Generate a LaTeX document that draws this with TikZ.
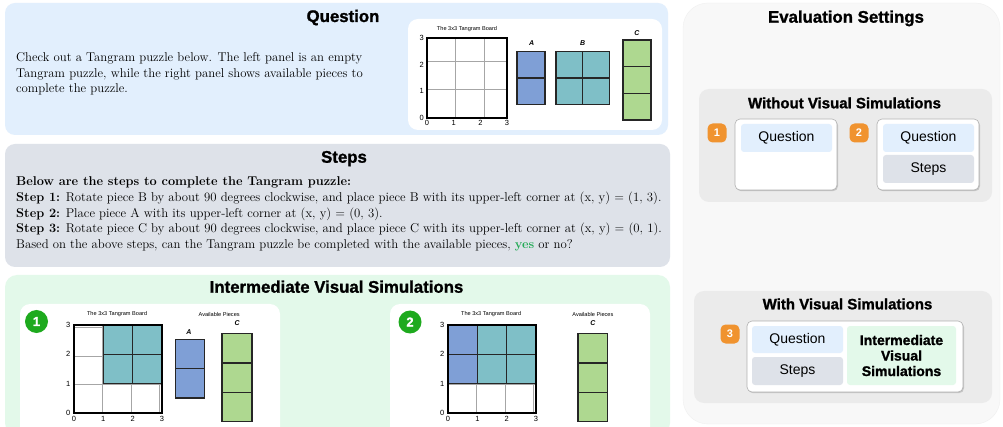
\documentclass[tikz,border=0pt]{standalone}
\usepackage{fontspec}
\newfontfamily\hsans{Liberation Sans}
\newfontfamily\hheavy{Liberation Sans}[BoldFeatures={FakeBold=1.3}]
\usetikzlibrary{shadows}
\definecolor{qbg}{HTML}{E2EFFD}
\definecolor{sbg}{HTML}{DEE2E9}
\definecolor{ibg}{HTML}{E3F9EA}
\definecolor{ebg}{HTML}{F8F8F8}
\definecolor{eib}{HTML}{EBEBEB}
\definecolor{pA}{HTML}{7F9FD6}
\definecolor{pB}{HTML}{7FBFC7}
\definecolor{pC}{HTML}{AED890}
\definecolor{bgreen}{HTML}{1EAA1E}
\definecolor{borange}{HTML}{F0932F}
\definecolor{yesgreen}{HTML}{22AA55}
\tikzset{
 boxn/.style={anchor=north west, inner sep=0pt, outer sep=0pt},
 ttl/.style={anchor=base, inner sep=0pt, font=\hheavy\bfseries\fontsize{16.8}{18}\selectfont},
 subttl/.style={anchor=base, inner sep=0pt, font=\hheavy\bfseries\fontsize{15}{17}\selectfont},
 body/.style={anchor=base west, inner sep=0pt, font=\fontsize{12.75}{16}\selectfont},
 gridln/.style={draw=gray!70, line width=0.4pt},
 pieceln/.style={draw=black!85, line width=1.3pt},
 boardln/.style={draw=black, line width=1.8pt},
 tiny/.style={font=\hsans\fontsize{5.6}{6}\selectfont, inner sep=0pt},
 axn/.style={font=\hsans\fontsize{7.5}{8}\selectfont, inner sep=0pt},
 plab/.style={font=\hsans\itshape\bfseries\fontsize{7}{8}\selectfont, inner sep=0pt},
 ebox/.style={boxn, fill=white, draw=gray!60, line width=0.6pt, rounded corners=5pt, drop shadow={shadow xshift=1pt, shadow yshift=-1.2pt, opacity=0.35}},
 einner/.style={boxn, rounded corners=3pt, font=\hsans\fontsize{14}{16}\selectfont},
 obadge/.style={fill=borange, rounded corners=5pt, minimum size=19pt, inner sep=0pt, text=white, font=\hsans\bfseries\fontsize{11}{12}\selectfont},
 gbadge/.style={circle, fill=bgreen, minimum size=23pt, inner sep=0pt, text=white, font=\hheavy\bfseries\fontsize{13}{14}\selectfont},
}
\newcommand\pc[5]{\filldraw[pieceln, fill=#5] (#1,#2) rectangle ++(#3,#4);}
\newcommand\tgaxes[1]{%
 \draw[gridln] (0,0) grid (3,3);
 \foreach \i in {0,1,2,3}{\node[axn] (#1l\i) at (-0.2,\i) {\i}; \node[axn] (#1b\i) at (\i,-0.2) {\i};}
}
\begin{document}
\begin{tikzpicture}[x=1pt,y=-1pt]
\useasboundingbox (0,0) rectangle (1003,427);
\fill[white] (0,0) rectangle (1003,427);
% ---------- Question panel
\node[boxn, fill=qbg, rounded corners=10pt, minimum width=663pt, minimum height=132pt] (qpanel) at (5,3) {};
\node[ttl] (qtitle) at (343,22) {Question};
\node[body] (q1) at (16,61.5) {Check out a Tangram puzzle below. The left panel is an empty};
\node[body] (q2) at (16,77.5) {Tangram puzzle, while the right panel shows available pieces to};
\node[body] (q3) at (16,93) {complete the puzzle.};
\node[boxn, fill=white, rounded corners=10pt, minimum width=254pt, minimum height=111pt] (qimg) at (408,19) {};
\begin{scope}[shift={(427,118)}, x=26.67pt, y=26.67pt]
 \tgaxes{q}
 \draw[boardln] (0,0) rectangle (3,3);
 \node[tiny] (qbt) at (1.5,3.32) {The 3x3 Tangram Board};
 \pc{3.375}{0.5}{1.05}{1}{pA} \pc{3.375}{1.5}{1.05}{1}{pA}
 \pc{4.84}{0.5}{1}{1}{pB} \pc{5.84}{0.5}{1}{1}{pB} \pc{4.84}{1.5}{1}{1}{pB} \pc{5.84}{1.5}{1}{1}{pB}
 \pc{7.35}{-0.08}{1.05}{1}{pC} \pc{7.35}{0.92}{1.05}{1}{pC} \pc{7.35}{1.92}{1.05}{1}{pC}
 \node[plab] (qla) at (3.92,2.8) {A};
 \node[plab] (qlb) at (5.84,2.8) {B};
 \node[plab] (qlc) at (7.87,3.2) {C};
\end{scope}
% ---------- Steps panel
\node[boxn, fill=sbg, rounded corners=10pt, minimum width=665pt, minimum height=123pt] (spanel) at (5,144) {};
\node[ttl] (stitle) at (344,162.7) {Steps};
\node[body] (s0) at (16,186) {\textbf{Below are the steps to complete the Tangram puzzle:}};
\node[body] (s1) at (16,202) {\textbf{Step 1:} Rotate piece B by about 90 degrees clockwise, and place piece B with its upper-left corner at (x, y) = (1, 3).};
\node[body] (s2) at (16,217.5) {\textbf{Step 2:} Place piece A with its upper-left corner at (x, y) = (0, 3).};
\node[body] (s3) at (16,233) {\textbf{Step 3:} Rotate piece C by about 90 degrees clockwise, and place piece C with its upper-left corner at (x, y) = (0, 1).};
\node[body] (s4) at (16,248.5) {Based on the above steps, can the Tangram puzzle be completed with the available pieces, \textcolor{yesgreen}{\textbf{yes}} or no?};
% ---------- Intermediate panel
\node[boxn, fill=ibg, rounded corners=12pt, minimum width=665pt, minimum height=160pt] (ipanel) at (5,275) {};
\node[ttl] (ititle) at (336.5,292.7) {Intermediate Visual Simulations};
\node[boxn, fill=white, rounded corners=10pt, minimum width=260pt, minimum height=140pt] (sim1) at (20,304) {};
\node[boxn, fill=white, rounded corners=10pt, minimum width=260pt, minimum height=140pt] (sim2) at (390,304) {};
\node[gbadge] (g1) at (36.5,321.5) {1};
\node[gbadge] (g2) at (410,322) {2};
\begin{scope}[shift={(74,413)}, x=29.33pt, y=29.33pt]
 \tgaxes{a}
 \pc{1}{1}{1}{1}{pB} \pc{2}{1}{1}{1}{pB} \pc{1}{2}{1}{1}{pB} \pc{2}{2}{1}{1}{pB}
 \draw[boardln] (0,0) rectangle (3,3);
 \node[tiny] (abt) at (1.47,3.37) {The 3x3 Tangram Board};
 \node[tiny] (aap) at (4.95,3.37) {Available Pieces};
 \pc{3.45}{0.51}{1}{1}{pA} \pc{3.45}{1.51}{1}{1}{pA}
 \pc{5.05}{-0.3}{1.02}{1}{pC} \pc{5.05}{0.7}{1.02}{1}{pC} \pc{5.05}{1.7}{1.02}{1}{pC}
 \node[plab] (ala) at (3.92,2.77) {A};
 \node[plab] (alc) at (5.56,3.06) {C};
\end{scope}
\begin{scope}[shift={(448,413)}, x=29.33pt, y=29.33pt]
 \tgaxes{b}
 \pc{0}{1}{1}{1}{pA} \pc{0}{2}{1}{1}{pA}
 \pc{1}{1}{1}{1}{pB} \pc{2}{1}{1}{1}{pB} \pc{1}{2}{1}{1}{pB} \pc{2}{2}{1}{1}{pB}
 \draw[boardln] (0,0) rectangle (3,3);
 \node[tiny] (bbt) at (1.47,3.37) {The 3x3 Tangram Board};
 \node[tiny] (bap) at (4.94,3.37) {Available Pieces};
 \pc{4.43}{-0.3}{1}{1}{pC} \pc{4.43}{0.7}{1}{1}{pC} \pc{4.43}{1.7}{1}{1}{pC}
 \node[plab] (blc) at (4.94,3.06) {C};
\end{scope}
% ---------- Evaluation settings
\node[boxn, fill=ebg, draw=gray!12, rounded corners=25pt, minimum width=317pt, minimum height=421pt] (epanel) at (683,3) {};
\node[ttl] (etitle) at (846,22.7) {Evaluation Settings};
\node[boxn, fill=eib, rounded corners=10pt, minimum width=293pt, minimum height=113pt] (wopanel) at (699,89) {};
\node[subttl] (wotitle) at (844.5,108.3) {Without Visual Simulations};
\node[obadge] (o1) at (717,133) {1};
\node[ebox, minimum width=102pt, minimum height=71pt] (e1) at (735,119) {};
\node[einner, fill=qbg, minimum width=91pt, minimum height=28pt] (e1q) at (741,124) {Question};
\node[obadge] (o2) at (859,133) {2};
\node[ebox, minimum width=102pt, minimum height=71pt] (e2) at (877,119) {};
\node[einner, fill=qbg, minimum width=91pt, minimum height=28pt] (e2q) at (883,124) {Question};
\node[einner, fill=sbg, minimum width=91pt, minimum height=28pt] (e2s) at (883,155) {Steps};
\node[boxn, fill=eib, rounded corners=10pt, minimum width=298pt, minimum height=112pt] (wpanel) at (694,291) {};
\node[subttl] (wtitle) at (847.5,309.3) {With Visual Simulations};
\node[obadge] (o3) at (730,334) {3};
\node[ebox, minimum width=216pt, minimum height=71pt] (e3) at (747,321) {};
\node[einner, fill=qbg, minimum width=91pt, minimum height=27pt] (e3q) at (752,326) {Question};
\node[einner, fill=sbg, minimum width=91pt, minimum height=28pt] (e3s) at (752,357) {Steps};
\node[einner, fill=ibg, minimum width=109pt, minimum height=59pt, align=center, font=\hheavy\bfseries\fontsize{14}{15.5}\selectfont] (e3i) at (847,326) {Intermediate\\Visual\\Simulations};
\end{tikzpicture}
\end{document}
